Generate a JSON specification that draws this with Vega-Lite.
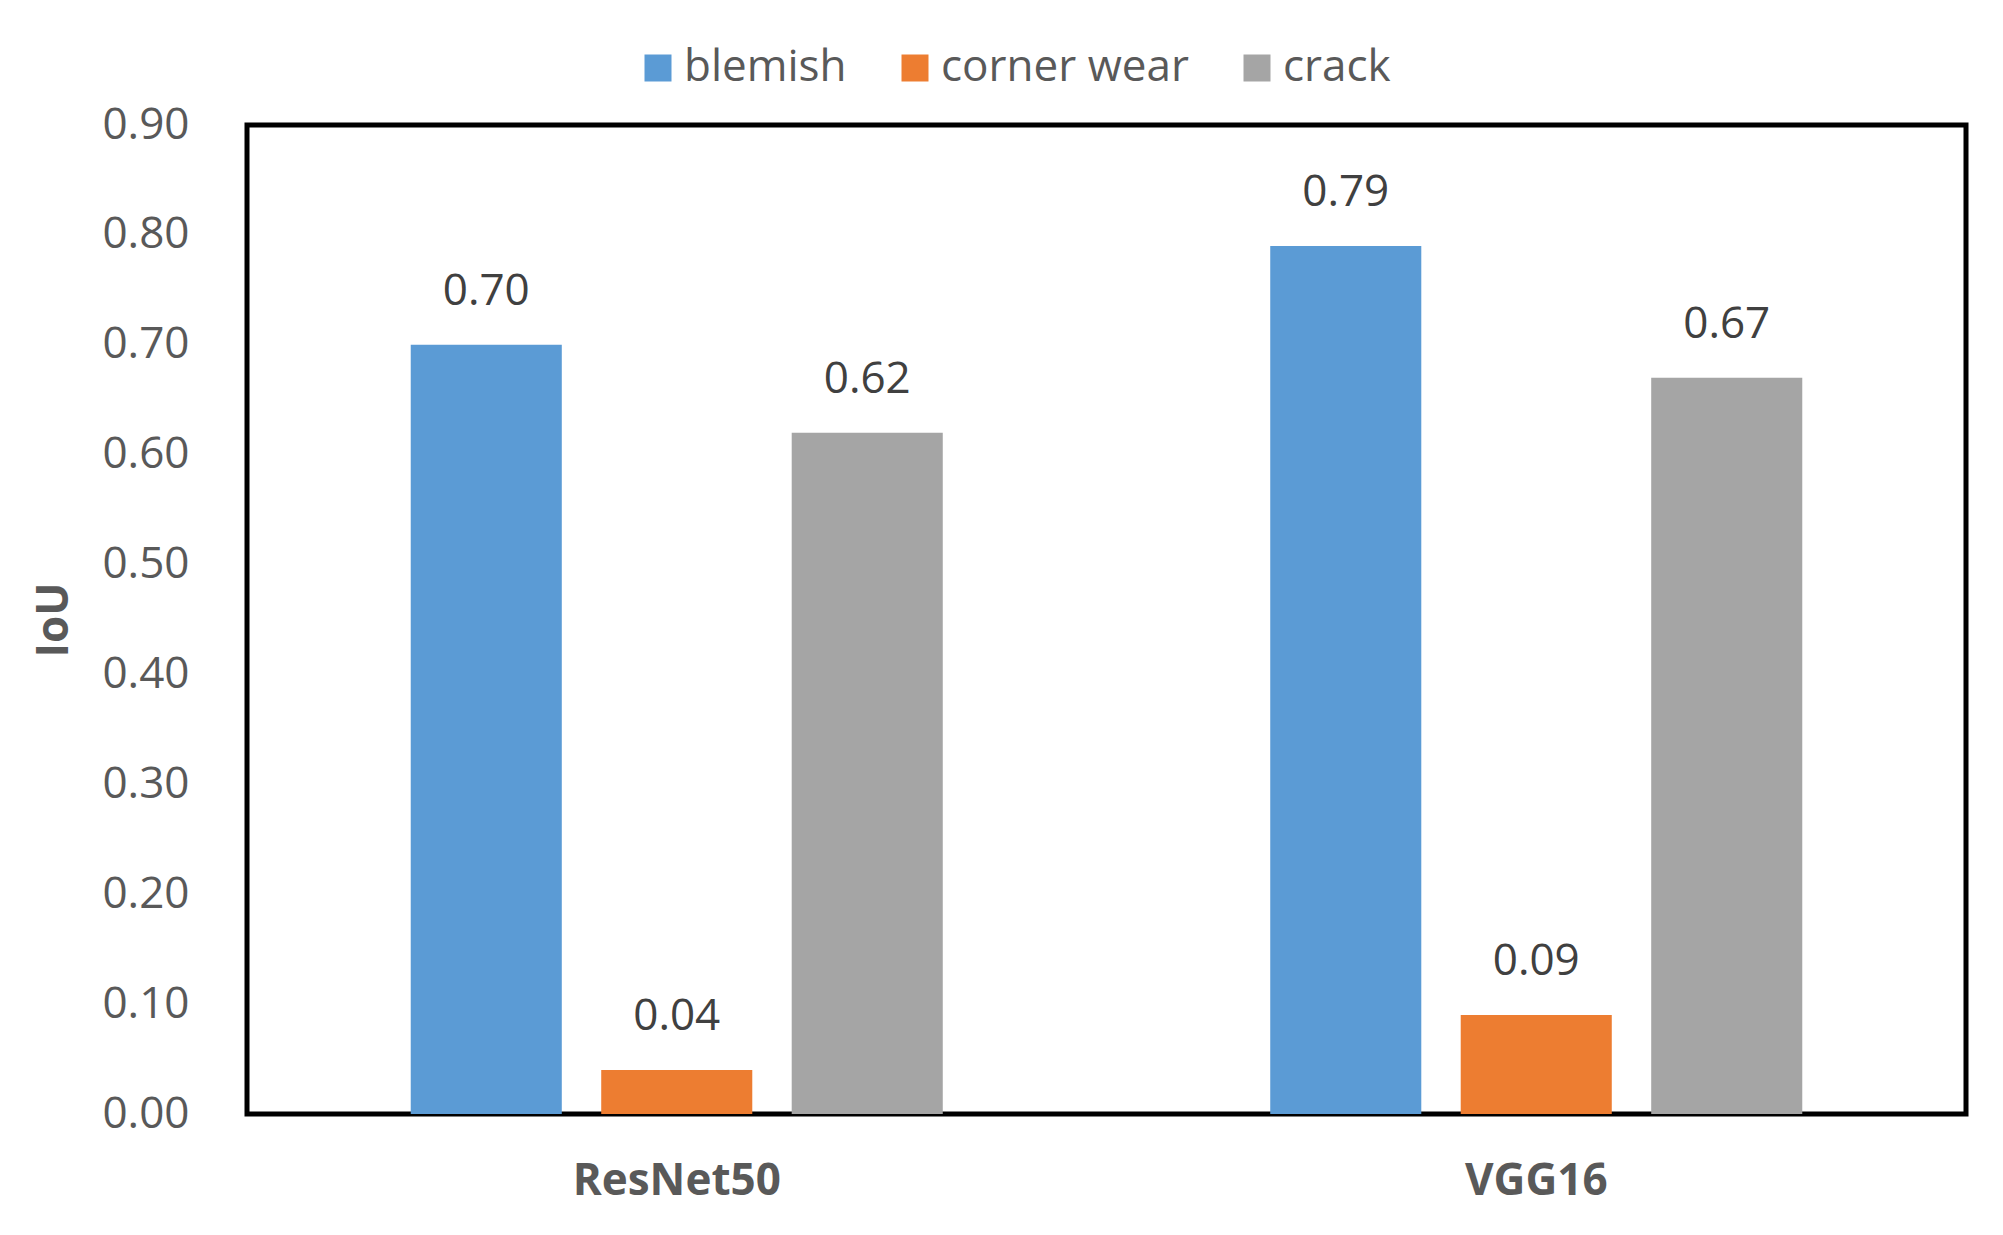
{
  "$schema": "https://vega.github.io/schema/vega-lite/v6.json",
  "width": 1719,
  "height": 989,
  "autosize": {"type": "none"},
  "padding": {"left": 247, "top": 125, "right": 37, "bottom": 121},
  "background": "white",
  "config": {
    "font": "Open Sans",
    "view": {"stroke": "black", "strokeWidth": 5},
    "axis": {"domain": false, "ticks": false, "grid": false}
  },
  "data": {
    "values": [
      {"model": "ResNet50", "defect": "blemish", "iou": 0.70},
      {"model": "ResNet50", "defect": "corner wear", "iou": 0.04},
      {"model": "ResNet50", "defect": "crack", "iou": 0.62},
      {"model": "VGG16", "defect": "blemish", "iou": 0.79},
      {"model": "VGG16", "defect": "corner wear", "iou": 0.09},
      {"model": "VGG16", "defect": "crack", "iou": 0.67}
    ]
  },
  "encoding": {
    "x": {
      "field": "model", "type": "nominal",
      "scale": {"paddingInner": 0.381, "paddingOuter": 0.1905},
      "axis": {"title": null, "labelAngle": 0, "labelFontSize": 44, "labelFontWeight": "bold", "labelColor": "#595959", "labelPadding": 45, "labelLimit": 0}
    },
    "xOffset": {
      "field": "defect", "type": "nominal",
      "scale": {"paddingInner": 0.207, "paddingOuter": 0}
    },
    "y": {
      "field": "iou", "type": "quantitative",
      "scale": {"domain": [0, 0.9], "nice": false},
      "axis": {"title": "IoU", "values": [0, 0.1, 0.2, 0.3, 0.4, 0.5, 0.6, 0.7, 0.8, 0.9], "format": ".2f", "labelFontSize": 44, "labelColor": "#595959", "labelPadding": 58, "titleFontSize": 44, "titleFontWeight": "bold", "titleColor": "#595959", "titlePadding": 25}
    }
  },
  "layer": [
    {
      "mark": {"type": "bar"},
      "encoding": {
        "color": {
          "field": "defect", "type": "nominal",
          "scale": {"domain": ["blemish", "corner wear", "crack"], "range": ["#5B9BD5", "#ED7D31", "#A5A5A5"]},
          "legend": {
            "title": null, "orient": "none", "direction": "horizontal",
            "legendX": 389, "legendY": -79,
            "padding": 0,
            "symbolType": "square", "symbolSize": 729, "symbolStrokeWidth": 0,
            "labelFontSize": 44, "labelColor": "#595959", "labelOffset": 4, "labelLimit": 0,
            "columnPadding": 46
          }
        }
      }
    },
    {
      "mark": {"type": "text", "baseline": "middle", "dy": -53, "fontSize": 44, "color": "#404040"},
      "encoding": {
        "text": {"field": "iou", "type": "quantitative", "format": ".2f"}
      }
    }
  ]
}
